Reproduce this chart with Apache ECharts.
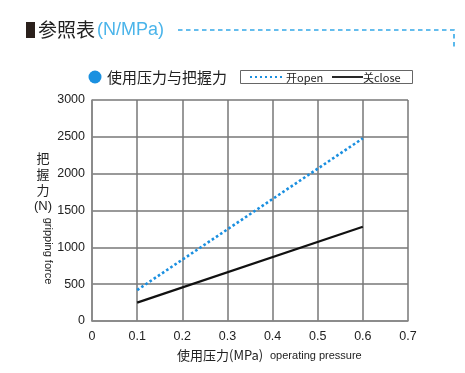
<!DOCTYPE html>
<html><head><meta charset="utf-8">
<script src="https://cdn.jsdelivr.net/npm/echarts@6/dist/echarts.min.js"></script>
<style>html,body{margin:0;padding:0;background:#fff}#c{width:465px;height:373px}</style>
</head><body><div id="c"></div>
<script>
const pressure = [0.1, 0.6];
const openForce = [420, 2480];
const closeForce = [250, 1280];
const xTicks = [0, 0.1, 0.2, 0.3, 0.4, 0.5, 0.6, 0.7];
const yTicks = [0, 500, 1000, 1500, 2000, 2500, 3000];
const seriesNames = ['开open', '关close'];

const CJK = '"Noto Sans CJK SC", "Liberation Sans", sans-serif';
const LAT = '"Liberation Sans", Arial, sans-serif';
const chart = echarts.init(document.getElementById('c'));
chart.setOption({
  backgroundColor: '#fff',
  animation: false,
  grid: {left: 92, top: 100, width: 316, height: 221, containLabel: false},
  xAxis: {
    type: 'value', min: 0, max: 0.7, interval: 0.1,
    axisLine: {show: true, lineStyle: {color: '#888', width: 1.5}},
    axisTick: {show: false},
    splitLine: {show: true, lineStyle: {color: '#777', width: 1.5}},
    axisLabel: {color: '#222', fontSize: 12.5, fontFamily: LAT, margin: 9,
      formatter: v => { const t = xTicks.find(x => Math.abs(x - v) < 1e-9); return t === undefined ? '' : String(t); }}
  },
  yAxis: {
    type: 'value', min: 0, max: 3000, interval: 500,
    axisLine: {show: true, lineStyle: {color: '#888', width: 1.5}},
    axisTick: {show: false},
    splitLine: {show: true, lineStyle: {color: '#777', width: 1.5}},
    axisLabel: {color: '#222', fontSize: 12.5, fontFamily: LAT, margin: 7,
      formatter: v => yTicks.includes(v) ? String(v) : ''}
  },
  series: [
    {name: seriesNames[0], type: 'line', showSymbol: false, symbol: 'none',
     data: pressure.map((p, i) => [p, openForce[i]]),
     lineStyle: {color: '#1a8fe0', width: 2.6, type: [2.6, 2.4], cap: 'butt'}},
    {name: seriesNames[1], type: 'line', showSymbol: false, symbol: 'none',
     data: pressure.map((p, i) => [p, closeForce[i]]),
     lineStyle: {color: '#111', width: 2.2}}
  ],
  graphic: [
    // header
    {type: 'rect', shape: {x: 26, y: 22, width: 9, height: 16}, style: {fill: '#2a201c'}},
    {type: 'text', x: 38, y: 30, style: {text: '参照表', font: '19px ' + CJK, fill: '#222', textVerticalAlign: 'middle'}},
    {type: 'text', x: 97, y: 30, style: {text: '(N/MPa)', font: '18px ' + LAT, fill: '#4ab4ea', textVerticalAlign: 'middle'}},
    {type: 'polyline', shape: {points: [[178, 30], [454, 30], [454, 50]]},
     style: {stroke: '#33a8e8', lineWidth: 1.6, lineDash: [4.5, 3.5], fill: null}},
    // chart subtitle
    {type: 'circle', shape: {cx: 95, cy: 77, r: 6.5}, style: {fill: '#1a90e0'}},
    {type: 'text', x: 107, y: 77, style: {text: '使用压力与把握力', font: '15px ' + CJK, fill: '#222', textVerticalAlign: 'middle'}},
    // legend box
    {type: 'rect', shape: {x: 240.5, y: 70.5, width: 172, height: 13}, style: {fill: '#fff', stroke: '#666', lineWidth: 1}},
    {type: 'line', shape: {x1: 250, y1: 77, x2: 282, y2: 77}, style: {stroke: '#1a8fe0', lineWidth: 2.2, lineDash: [2, 3]}},
    {type: 'text', x: 286, y: 77.5, style: {text: seriesNames[0], font: '11px ' + CJK, fill: '#222', textVerticalAlign: 'middle'}},
    {type: 'line', shape: {x1: 332, y1: 77, x2: 363, y2: 77}, style: {stroke: '#111', lineWidth: 1.8}},
    {type: 'text', x: 363, y: 77.5, style: {text: seriesNames[1], font: '11px ' + CJK, fill: '#222', textVerticalAlign: 'middle'}},
    // y axis name
    {type: 'text', x: 43, y: 158, style: {text: '把', font: '13px ' + CJK, fill: '#222', textAlign: 'center', textVerticalAlign: 'middle'}},
    {type: 'text', x: 43, y: 174, style: {text: '握', font: '13px ' + CJK, fill: '#222', textAlign: 'center', textVerticalAlign: 'middle'}},
    {type: 'text', x: 43, y: 190, style: {text: '力', font: '13px ' + CJK, fill: '#222', textAlign: 'center', textVerticalAlign: 'middle'}},
    {type: 'text', x: 43, y: 206, style: {text: '(N)', font: '13px ' + LAT, fill: '#222', textAlign: 'center', textVerticalAlign: 'middle'}},
    {type: 'text', x: 48, y: 251, rotation: -Math.PI / 2, style: {text: 'gripping force', font: '11px ' + LAT, fill: '#222', textAlign: 'center', textVerticalAlign: 'middle'}},
    // x axis name
    {type: 'text', x: 177, y: 355, style: {text: '使用压力(MPa)', font: '13px ' + CJK, fill: '#222', textVerticalAlign: 'middle'}},
    {type: 'text', x: 270, y: 356, style: {text: 'operating pressure', font: '11px ' + LAT, fill: '#222', textVerticalAlign: 'middle'}}
  ]
});
</script></body></html>
